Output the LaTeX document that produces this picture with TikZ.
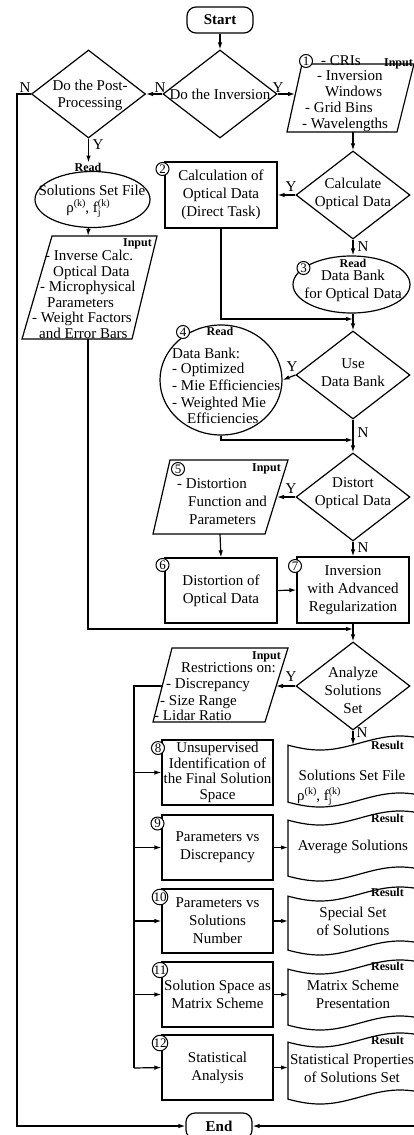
\documentclass[tikz,border=0pt]{standalone}
\usepackage{fontspec}
\setmainfont{Liberation Serif}
\usetikzlibrary{shapes.geometric,arrows.meta}
\newcommand\myfs{\fontsize{15}{18}\selectfont}
\newcommand\mytight{\fontsize{15}{15.7}\selectfont}
\newcommand\mytag{\fontsize{12}{14}\selectfont\bfseries}
\newcommand\mynum{\fontsize{13}{14}\selectfont}
\newcommand\mysml{\fontsize{10}{10}\selectfont}
\newcommand\myrho{ρ\raisebox{0.8ex}{\mysml(k)}, f\rlap{\raisebox{-0.55ex}{\mysml j}}\raisebox{0.8ex}{\mysml(k)}}
\newcommand\docshape[3]{%
  \draw[ln] plot[domain=288:420,samples=50] (\x,{#2+7*cos((\x-320)*2.25)})
    -- plot[domain=420:288,samples=50] (\x,{#3+7*cos((\x-320)*2.25)}) -- cycle;
  \coordinate (#1w) at (288,{(#2+#3)/2});
}
\tikzset{
  ln/.style={line width=1.2pt},
  arr/.style={line width=1.2pt,-{Latex[length=7pt,width=4.5pt]}},
  proc/.style={draw,rectangle,line width=1.2pt,inner sep=0pt,align=center,font=\myfs},
  dec/.style={draw,diamond,line width=1.2pt,inner sep=0pt,minimum width=114pt,minimum height=88pt},
  oval/.style={draw,ellipse,line width=1.2pt,inner sep=0pt},
  txt/.style={inner sep=0pt,align=center,font=\myfs},
  ltxt/.style={inner sep=0pt,anchor=base west,font=\myfs},
  num/.style={draw,circle,fill=white,line width=1pt,inner sep=0pt,minimum size=13pt,font=\mynum},
  tag/.style={inner sep=0pt,font=\mytag},
  yn/.style={inner sep=0pt,font=\myfs},
  term/.style={draw,rectangle,rounded corners=9pt,line width=1.2pt,minimum width=66pt,minimum height=26pt,inner sep=0pt,font=\myfs\bfseries}
}
\begin{document}
\begin{tikzpicture}[x=1pt,y=-1pt]
\useasboundingbox (0,0) rectangle (414,1135);

% terminals
\node[term] (start) at (220,20) {Start};
\node[term] (end) at (219,1126) {End};

% decisions
\node[dec] (inv) at (220,94) {};
\node[dec] (post) at (88.5,94) {};
\node[dec] (calc) at (353,195) {};
\node[dec] (use) at (353,375) {};
\node[dec] (dist) at (353,497) {};
\node[dec] (anal) at (353,686) {};
\node[txt] at (220,94) {Do the Inversion};
\node[txt,font=\fontsize{15}{17}\selectfont] at (90,95) {Do the Post-\\Processing};
\node[txt] at (353,194) {Calculate\\Optical Data};
\node[txt] at (353,373) {Use\\Data Bank};
\node[txt] at (353,493) {Distort\\Optical Data};
\node[txt] at (353,690) {Analyze\\Solutions\\Set};

% processes
\node[proc,minimum width=112pt,minimum height=66pt] (b2) at (221,195) {Calculation of\\Optical Data\\(Direct Task)};
\node[proc,minimum width=112pt,minimum height=65pt] (b6) at (221,590.5) {Distortion of\\Optical Data};
\node[proc,minimum width=112pt,minimum height=66pt] (b7) at (353,590) {Inversion\\with Advanced\\Regularization};
\node[proc,minimum width=111pt,minimum height=65pt,font=\mytight] (b8) at (217.5,772.5) {Unsupervised\\Identification of\\the Final Solution\\Space};
\node[proc,minimum width=111pt,minimum height=65pt] (b9) at (217.5,847.5) {Parameters vs\\Discrepancy};
\node[proc,minimum width=111pt,minimum height=64pt] (b10) at (217.5,921) {Parameters vs\\Solutions\\Number};
\node[proc,minimum width=111pt,minimum height=65pt] (b11) at (217.5,994.5) {Solution Space as\\Matrix Scheme};
\node[proc,minimum width=111pt,minimum height=65pt] (b12) at (217.5,1067.5) {Statistical\\Analysis};

% ovals
\node[oval,minimum width=115pt,minimum height=56pt] (eL) at (92.5,199.5) {};
\node[oval,minimum width=117pt,minimum height=57pt] (o3) at (351.5,284.5) {};
\node[oval,minimum width=122pt,minimum height=110pt] (e4) at (221,380) {};

% parallelograms
\coordinate (p1tl) at (302,64); \coordinate (p1tr) at (414,64);
\coordinate (p1br) at (397,132); \coordinate (p1bl) at (287,132);
\draw[ln] (p1tl) -- (p1tr) -- (p1br) -- (p1bl) -- cycle;
\coordinate (pLtl) at (52,236); \coordinate (pLtr) at (157,236);
\coordinate (pLbr) at (132,339); \coordinate (pLbl) at (22,339);
\draw[ln] (pLtl) -- (pLtr) -- (pLbr) -- (pLbl) -- cycle;
\coordinate (p5tl) at (170,460); \coordinate (p5tr) at (288,460);
\coordinate (p5br) at (265,534); \coordinate (p5bl) at (153,534);
\draw[ln] (p5tl) -- (p5tr) -- (p5br) -- (p5bl) -- cycle;
\coordinate (pRtl) at (172,648); \coordinate (pRtr) at (288,648);
\coordinate (pRbr) at (265,722); \coordinate (pRbl) at (153,722);
\draw[ln] (pRtl) -- (pRtr) -- (pRbr) -- (pRbl) -- cycle;

% documents
\docshape{d1}{743}{800}
\docshape{d2}{818}{874}
\docshape{d3}{894}{948}
\docshape{d4}{967}{1023}
\docshape{d5}{1040}{1097}

% texts in parallelograms
\node[ltxt] at (321,65) {- CRIs};
\node[ltxt] at (317,80) {- Inversion};
\node[ltxt] at (325,96) {Windows};
\node[ltxt] at (305,112) {- Grid Bins};
\node[ltxt] at (302,128) {- Wavelengths};
\node[ltxt] at (45,260) {- Inverse Calc.};
\node[ltxt] at (53,276) {Optical Data};
\node[ltxt] at (40,291) {- Microphysical};
\node[ltxt] at (47,307) {Parameters};
\node[ltxt] at (32,322) {- Weight Factors};
\node[ltxt] at (39,338) {and Error Bars};
\node[ltxt] at (177,488) {- Distortion};
\node[ltxt] at (188,506) {Function and};
\node[ltxt] at (189,524) {Parameters};
\node[ltxt] at (181,672) {Restrictions on:};
\node[ltxt] at (166,688) {- Discrepancy};
\node[ltxt] at (160,705) {- Size Range};
\node[ltxt] at (154,720) {- Lidar Ratio};

% texts in ovals
\node[txt,anchor=base] at (92,195) {Solutions Set File};
\node[txt,anchor=base] at (88,212) {\myrho};
\node[txt] at (353,286) {Data Bank\\for Optical Data};
\node[ltxt] at (172,358) {Data Bank:};
\node[ltxt] at (172,373) {- Optimized};
\node[ltxt] at (172,390) {- Mie Efficiencies};
\node[ltxt] at (172,407) {- Weighted Mie};
\node[ltxt] at (187,423) {Efficiencies};

% texts in documents
\node[txt,anchor=base] at (352,780) {Solutions Set File};
\node[ltxt] at (297,800) {\myrho};
\node[txt] at (353,847) {Average Solutions};
\node[txt] at (353,921) {Special Set\\of Solutions};
\node[txt] at (353,994) {Matrix Scheme\\Presentation};
\node[txt] at (352,1068.5) {Statistical Properties\\of Solutions Set};

% tags
\node[tag,anchor=base east] at (413,66) {Input};
\node[tag,anchor=base east] at (152,246) {Input};
\node[tag,anchor=base east] at (281,471) {Input};
\node[tag,anchor=base east] at (281,659) {Input};
\node[tag] (rdL) at (88,167) {Read};
\node[tag] at (353,263) {Read};
\node[tag] at (220,331) {Read};
\foreach \yy in {749,822,896,970,1044} \node[tag,anchor=base east] at (404,\yy) {Result};

% numbers
\node[num] at (306,61) {1};
\node[num] at (162.5,169) {2};
\node[num] at (303.5,268) {3};
\node[num] at (183,332) {4};
\node[num] at (178,469) {5};
\node[num] at (162.5,565) {6};
\node[num] at (295,566) {7};
\node[num] at (158,748) {8};
\node[num] at (157.5,823.5) {9};
\node[num] at (160,897) {10};
\node[num] at (160,970) {11};
\node[num] at (160,1043) {12};

% coordinates
\coordinate (lc1) at (17,94);
\coordinate (lc2) at (17,1126);
\coordinate (p1w) at (295,94);
\coordinate (p1s) at (353,132);
\coordinate (j1) at (353,319);
\coordinate (j2) at (353,440);
\coordinate (p5e) at (277,497);
\coordinate (p5s) at (220,534);
\coordinate (pLn) at (88,236);
\coordinate (pLs) at (88,339);
\coordinate (j3) at (353,629);
\coordinate (pRe) at (276,686);
\coordinate (pRw) at (163,686);
\coordinate (bus1) at (134,686);
\coordinate (bus2) at (134,1068);
\coordinate (d1n) at (353,745);
\coordinate (rin) at (416,1126);

% connectors
\draw[arr] (start.south) -- (inv.north);
\draw[arr] (inv.west) -- (post.east);
\draw[arr] (post.west) -- (lc1) -- (lc2) -- (end.west);
\draw[arr] (inv.east) -- (p1w);
\draw[arr] (p1s) -- (calc.north);
\draw[arr] (calc.west) -- (b2.east);
\draw[arr] (calc.south) -- (calc.south |- o3.north);
\draw[arr] (b2.south) |- (j1);
\draw[arr] (o3.south -| use.north) -- (use.north);
\draw[arr] (use.west) -- (e4.east);
\draw[arr] (e4.south) |- (j2);
\draw[arr] (use.south) -- (dist.north);
\draw[arr] (dist.west) -- (p5e);
\draw[arr] (p5s) -- (b6.north);
\draw[arr] (b6.east) -- (b7.west);
\draw[arr] (dist.south) -- (b7.north);
\draw[arr] (b7.south) -- (anal.north);
\draw[arr] (post.south) -- (post.south |- rdL.north);
\draw[arr] (eL.south -| post.south) -- (pLn);
\draw[arr] (pLs) |- (j3);
\draw[arr] (anal.west) -- (pRe);
\draw[ln] (pRw) -- (bus1) -- (bus2);
\draw[arr] (b8.west -| bus1) -- (b8.west);
\draw[arr] (b9.west -| bus1) -- (b9.west);
\draw[arr] (b10.west -| bus1) -- (b10.west);
\draw[arr] (b11.west -| bus1) -- (b11.west);
\draw[arr] (bus2) -- (b12.west);
\draw[arr] (anal.south) -- (d1n);
\draw[arr] (b9.east) -- (b9.east -| d2w);
\draw[arr] (b10.east) -- (b10.east -| d3w);
\draw[arr] (b11.east) -- (b11.east -| d4w);
\draw[arr] (b12.east) -- (b12.east -| d5w);
\draw[arr] (rin) -- (end.east);

% Y/N labels
\node[yn] at (25,88) {N};
\node[yn] at (160,88) {N};
\node[yn] at (278,88) {Y};
\node[yn] at (98,145) {Y};
\node[yn] at (291,187) {Y};
\node[yn] at (363,247) {N};
\node[yn] at (292,367) {Y};
\node[yn] at (363,433) {N};
\node[yn] at (291,489) {Y};
\node[yn] at (363,548) {N};
\node[yn] at (291,677) {Y};
\node[yn] at (362,733) {N};
\end{tikzpicture}
\end{document}
